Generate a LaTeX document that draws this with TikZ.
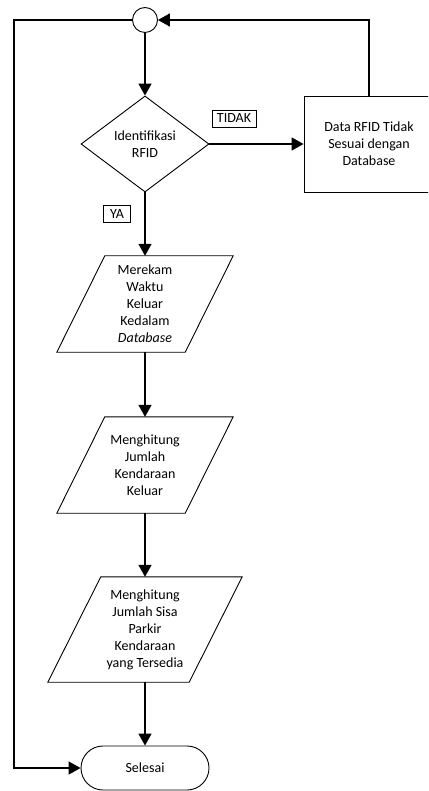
\documentclass[tikz,border=0pt]{standalone}
\usepackage{fontspec}
\setmainfont{Carlito}
\usetikzlibrary{shapes.geometric,shapes.misc,arrows.meta}
\begin{document}
\begin{tikzpicture}[x=1pt,y=-1pt,
  every node/.style={font=\fontsize{14}{17}\selectfont, align=center, inner sep=0pt},
  shapeline/.style={line width=0.9pt},
  flow/.style={line width=1.6pt, -{Triangle[length=12pt,width=13pt]}},
  lbl/.style={draw, line width=0.8pt, inner xsep=5pt, minimum height=17pt},
  paranode/.style={minimum width=128pt, minimum height=96pt},
]
\useasboundingbox (0,0) rectangle (428,791);
\clip (0,0) rectangle (428,791);
% nodes
\node[circle, draw, shapeline, minimum size=25pt] (c) at (145,20) {};
\node[diamond, aspect=1.333, draw, shapeline, minimum width=128pt, minimum height=96pt] (d) at (145,144) {Identifikasi\\RFID};
\node[draw, shapeline, minimum width=130pt, minimum height=96pt] (r) at (369,144) {Data RFID Tidak\\Sesuai dengan\\Database};
\node[paranode] (p1) at (145,304) {Merekam\\Waktu\\Keluar\\Kedalam\\\textit{Database}};
\node[paranode] (p2) at (145,465) {Menghitung\\Jumlah\\Kendaraan\\Keluar};
\node[minimum width=141pt, minimum height=105pt] (p3) at (145,629.5) {Menghitung\\Jumlah Sisa\\Parkir\\Kendaraan\\yang Tersedia};
\node[rounded rectangle, draw, shapeline, minimum width=128pt, minimum height=44pt] (s) at (145,768) {Selesai};
\node[lbl] (tidak) at (234,118.5) {TIDAK};
\node[lbl, inner xsep=6.5pt] (ya) at (117,214) {YA};
% parallelogram outlines
\foreach \p/\k in {p1/24pt, p2/24pt, p3/26.5pt}{
  \draw[shapeline] ([xshift=\k]\p.north west) -- ([xshift=\k]\p.north east)
    -- ([xshift=-\k]\p.south east) -- ([xshift=-\k]\p.south west) -- cycle;
}
% connectors
\coordinate (lc) at (14,20);
\draw[flow] (c.south) -- (d.north);
\draw[flow] (d.east) -- (r.west);
\draw[flow] (d.south) -- (p1.north);
\draw[flow] (p1.south) -- (p2.north);
\draw[flow] (p2.south) -- (p3.north);
\draw[flow] (p3.south) -- (s.north);
\draw[flow] (r.north) |- (c.east);
\draw[flow] (c.west) -- (lc) |- (s.west);
\end{tikzpicture}
\end{document}
